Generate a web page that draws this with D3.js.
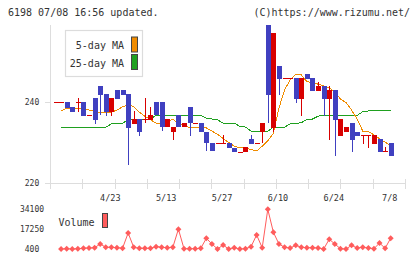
<!DOCTYPE html>
<html><head><meta charset="utf-8">
<script src="https://cdn.jsdelivr.net/npm/d3@7"></script>
<style>
html,body{margin:0;padding:0;background:#fff;}
svg{display:block;}
text{font-family:"DejaVu Sans Mono",monospace;fill:#333;}
</style></head>
<body>
<svg id="c" width="420" height="259"></svg>
<script>
// ---- data ----
const titleText = "6198 07/08 16:56 updated.";
const creditText = "(C)https://www.rizumu.net/";
const opens  = [240,240,240,238.7,240,240,236.8,241,244,242,237.5,243,243,242,234.6,235.8,235.7,235.6,240,240,233.8,232.7,236.8,233.8,238.7,234.7,234.7,232.7,229.8,229.8,229.8,229.8,228.7,227.7,227.7,230.8,229.8,232.7,259,233.5,248.9,245.9,245.9,245.9,240.7,246.9,245.9,242.8,244.0,240.7,243.0,231.7,232.7,234.7,232.7,231.9,231.9,229.7,230.9,227.9,229.9];
const closes = [240,240,238.5,237.6,240,236.5,236.8,235.6,241.7,237.5,241,240.7,241.7,233.6,235.8,232.7,235.7,236.8,236.8,233.9,235.8,233.8,233.8,234.7,234.7,234.7,232.7,229.8,227.8,229.8,229.8,228.7,227.7,227.7,228.8,229.7,229.8,234.7,241.7,257,245.7,245.9,245.9,240.7,245.9,245.7,242.8,244.0,240.7,243.0,235.6,235.8,233.8,230.6,231.7,231.9,231.9,231.9,227.7,227.9,226.7];
const highs  = [240,240,240,238.7,240.9,240,236.8,241,244,242,241,243,243,242,237.8,235.8,240.9,238.7,240,240,235.8,233.8,236.8,234.7,238.7,234.7,234.7,232.7,229.8,229.8,231.9,229.8,228.7,227.7,228.8,231.9,229.8,234.7,259,257,248.9,245.9,245.9,245.9,245.9,246.9,245.9,244.9,244.0,244.0,243.0,235.8,233.8,234.7,232.7,231.9,231.9,231.9,230.9,228.9,229.9];
const lows   = [240,240,238.5,237.6,237.6,236.5,236.8,234.6,236.8,236.5,236.5,240.7,241.7,224.5,234.6,231.7,234.7,235.6,236.8,232.8,233.8,230.6,233.8,233.8,231.7,234.7,232.7,227.8,227.8,229.8,229.8,228.7,227.7,227.7,227.7,229.7,229.8,229.8,234.7,232.7,241.7,245.9,245.9,239.8,236.5,245.7,242.8,242.8,236.6,230.6,226.7,231.7,232.7,227.7,231.7,229.7,228.7,229.7,227.7,227.9,226.7];
const ma5  = [null,237.8,238.5,238.5,238.5,238.5,238.0,237.8,237.3,237.5,237.5,238.0,238.8,239.3,238.9,237.5,236.5,235.6,234.8,234.8,235.3,235.7,234.8,234.0,233.75,233.75,233.75,233.6,232.8,232.0,231.0,230.0,229.1,228.7,228.6,228.3,227.9,229.1,230.4,232.3,238.5,243.0,245.4,246.8,246.7,245.0,244.8,244.4,244.0,243.5,242.5,240.7,239.9,238.0,235.8,232.8,232.7,231.9,230.9,230.1,229.1];
const ma25 = [null,233.8,233.8,233.8,233.8,233.8,233.8,233.8,233.8,233.8,234.6,234.8,234.8,235.5,235.8,235.8,235.8,235.8,236.7,236.7,236.7,236.7,236.7,236.7,236.7,236.7,236.7,236.0,235.8,235.6,234.8,234.8,234.8,234.0,233.8,232.8,232.8,232.8,232.8,233.8,233.8,233.8,234.6,234.7,234.9,235.7,235.8,236.5,236.7,236.7,236.7,236.7,236.7,236.7,236.7,237.6,237.8,237.8,237.8,237.8,237.8];
const volume = [null,400,650,400,650,1000,1250,1500,4650,1850,1850,1500,1000,14000,1850,1000,1000,1000,2350,1850,1500,1850,17250,650,650,650,1000,9450,4650,400,3800,400,1500,400,650,2350,12300,1500,34100,14600,4650,1850,1250,3500,1850,1500,1500,1250,400,8700,4650,650,400,3500,1250,1850,1250,650,5500,1000,9600];
const xLabels = ["4/23","5/13","5/27","6/10","6/24","7/8"];
const xLabelIdx = [10,20,30,40,50,60];
const priceTicks = [220,240];
const volTicks = [400,17250,34100];
const legendItems = ["5-day MA","25-day MA"];

// ---- styles ----
const C = {up:"#d80000", down:"#4040c0", ma5:"#f08c00", ma25:"#1fa01f", vol:"#ff5c5c", axis:"#dddddd", box:"#444"};

const svg = d3.select("#c");
const n = opens.length;
const x = d3.scaleLinear().domain([0, n-1]).range([55.5, 390.7]);
const y = d3.scaleLinear().domain([220, 240]).range([183, 102]);
const yv = d3.scaleLinear().domain([400, 34100]).range([249, 209.3]);
const tickScale = d3.scaleLinear().domain([0, 11]).range([50, 405]);

// header
svg.append("text").attr("x", 8).attr("y", 16).attr("font-size", 10).text(titleText);
svg.append("text").attr("x", 410).attr("y", 16).attr("font-size", 10).attr("text-anchor", "end").text(creditText);

// axes
const ax = svg.append("g").attr("stroke", C.axis).attr("shape-rendering", "crispEdges");
ax.append("line").attr("x1", 50.5).attr("x2", 50.5).attr("y1", 25).attr("y2", 184);
ax.append("line").attr("x1", 45).attr("x2", 405).attr("y1", Math.round(y(220)) + 0.5).attr("y2", Math.round(y(220)) + 0.5);
ax.selectAll(".yt").data(priceTicks).enter().append("line")
  .attr("x1", 45).attr("x2", 50).attr("y1", d => Math.round(y(d)) + 0.5).attr("y2", d => Math.round(y(d)) + 0.5);
ax.selectAll(".xt").data(d3.range(12)).enter().append("line")
  .attr("x1", d => Math.round(tickScale(d)) + 0.5).attr("x2", d => Math.round(tickScale(d)) + 0.5)
  .attr("y1", 179).attr("y2", 189);

svg.selectAll(".yl").data(priceTicks).enter().append("text")
  .attr("x", 32).attr("y", d => y(d) + 3).attr("font-size", 8).attr("text-anchor", "middle").text(d => d);
svg.selectAll(".xl").data(xLabels).enter().append("text")
  .attr("x", (d, i) => x(xLabelIdx[i]) - 1).attr("y", 200.5).attr("font-size", 8.5)
  .attr("text-anchor", "middle").text(d => d);

// MA lines
const lineGen = arr => d3.line().defined(d => arr[d] != null).x(d => x(d)).y(d => y(arr[d]));
svg.append("path").attr("d", lineGen(ma25)(d3.range(n))).attr("fill", "none")
  .attr("stroke", C.ma25).attr("stroke-width", 1).attr("shape-rendering", "crispEdges");
svg.append("path").attr("d", lineGen(ma5)(d3.range(n))).attr("fill", "none")
  .attr("stroke", C.ma5).attr("stroke-width", 1).attr("shape-rendering", "crispEdges");

// candles
const cg = svg.append("g").attr("shape-rendering", "crispEdges");
d3.range(n).forEach(i => {
  const o = opens[i], c = closes[i], h = highs[i], l = lows[i];
  const col = c >= o ? C.up : C.down;
  const cx = Math.round(x(i));
  if (h > Math.max(o, c) || l < Math.min(o, c)) {
    cg.append("line").attr("x1", cx + 0.5).attr("x2", cx + 0.5)
      .attr("y1", Math.round(y(h))).attr("y2", Math.round(y(l))).attr("stroke", col);
  }
  const top = Math.round(y(Math.max(o, c)));
  const bot = Math.round(y(Math.min(o, c)));
  cg.append("rect").attr("x", cx - 2).attr("width", 5)
    .attr("y", top).attr("height", Math.max(1, bot - top)).attr("fill", col);
});

// legend box
svg.append("rect").attr("x", 65.5).attr("y", 30.5).attr("width", 77).attr("height", 46)
  .attr("fill", "#fff").attr("stroke", "#dcdcdc").attr("stroke-width", 1.2);
const legCols = [C.ma5, C.ma25];
legendItems.forEach((t, k) => {
  svg.append("text").attr("x", 124).attr("y", 49 + k * 17.5).attr("font-size", 10)
    .attr("text-anchor", "end").text(t);
  svg.append("rect").attr("x", 131.5).attr("y", 37 + k * 17.5).attr("width", 6).attr("height", 15)
    .attr("fill", legCols[k]).attr("stroke", C.box).attr("stroke-width", 1);
});

// volume
svg.selectAll(".vl").data(volTicks).enter().append("text")
  .attr("x", 32).attr("y", d => yv(d) + 3).attr("font-size", 8).attr("text-anchor", "middle").text(d => d);
const vIdx = d3.range(n).filter(i => volume[i] != null);
svg.append("path").attr("d", d3.line().x(d => x(d)).y(d => yv(volume[d]))(vIdx))
  .attr("fill", "none").attr("stroke", C.vol).attr("stroke-width", 1);
svg.selectAll(".vd").data(vIdx).enter().append("path")
  .attr("d", d3.symbol(d3.symbolSquare, 18)())
  .attr("transform", d => `translate(${x(d)},${yv(volume[d])}) rotate(45)`)
  .attr("fill", C.vol);
svg.append("text").attr("x", 58.5).attr("y", 226).attr("font-size", 10).text("Volume");
svg.append("rect").attr("x", 102.5).attr("y", 213.5).attr("width", 5).attr("height", 14)
  .attr("fill", C.vol).attr("stroke", C.box).attr("stroke-width", 1);
</script>
</body></html>
